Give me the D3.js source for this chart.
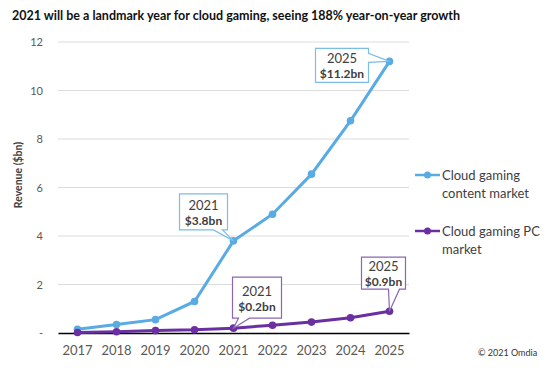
<!DOCTYPE html>
<html>
<head>
<meta charset="utf-8">
<script src="https://cdn.jsdelivr.net/npm/d3@7"></script>
<style>
  body { margin: 0; background: #fff; }
  text { font-family: Lato, "Open Sans", sans-serif; }
</style>
</head>
<body>
<div id="chart"></div>
<script>
// data
var years = ['2017', '2018', '2019', '2020', '2021', '2022', '2023', '2024', '2025'];
var contentMarket = [0.15, 0.35, 0.55, 1.3, 3.8, 4.9, 6.55, 8.75, 11.2];
var pcMarket = [0.02, 0.05, 0.1, 0.13, 0.2, 0.32, 0.45, 0.63, 0.9];
var yTicks = [0, 2, 4, 6, 8, 10, 12];
var seriesNames = [['Cloud gaming', 'content market'], ['Cloud gaming PC', 'market']];

var width = 553, height = 368;
var blue = '#58abe3', purple = '#6a2fa0';

var svg = d3.select('#chart').append('svg')
    .attr('width', width)
    .attr('height', height);

var x = d3.scaleBand()
    .domain(years)
    .range([58, 409]);

var y = d3.scaleLinear()
    .domain([0, 12])
    .range([333, 42]);

function cx(d) { return x(d) + x.bandwidth() / 2; }

// title
svg.append('text')
  .attr('x', 12).attr('y', 20)
  .style('font-size', '12.5px')
  .style('font-weight', 'bold')
  .attr('fill', '#111')
  .text('2021 will be a landmark year for cloud gaming, seeing 188% year-on-year growth');

// gridlines
svg.append('g').selectAll('line')
  .data(yTicks.filter(d => d > 0))
  .enter().append('line')
    .attr('x1', 58).attr('x2', 409)
    .attr('y1', d => y(d)).attr('y2', d => y(d))
    .attr('stroke', '#dcdcdc')
    .attr('stroke-width', 1);

// y axis labels
var yaxis = d3.axisLeft(y).tickValues(yTicks).tickSize(0).tickPadding(15)
    .tickFormat(d => d === 0 ? '-' : d);
svg.append('g')
  .attr('transform', 'translate(58,0)')
  .call(yaxis)
  .call(g => g.select('.domain').remove())
  .call(g => g.selectAll('text')
      .style('font-size', '11px')
      .style('font-family', 'Lato, sans-serif')
      .attr('fill', '#595959'));

// x axis
var xaxis = d3.axisBottom(x).tickSize(0).tickPadding(13);
svg.append('g')
  .attr('transform', 'translate(0,' + y(0) + ')')
  .call(xaxis)
  .call(g => g.select('.domain').attr('stroke', '#000').attr('stroke-width', 1.3))
  .call(g => g.selectAll('text')
      .style('font-size', '13px')
      .style('font-family', 'Lato, sans-serif')
      .attr('fill', '#595959'));

// y axis title
svg.append('text')
  .attr('transform', 'translate(22,' + 175 + ') rotate(-90)')
  .attr('text-anchor', 'middle')
  .style('font-size', '10.5px')
  .style('font-weight', 'bold')
  .attr('fill', '#404040')
  .text('Revenue ($bn)');

// lines
var line = d3.line()
    .x((d, i) => cx(years[i]))
    .y(d => y(d));

[[contentMarket, blue], [pcMarket, purple]].forEach(function(s) {
  svg.append('path')
    .datum(s[0])
    .attr('d', line)
    .attr('fill', 'none')
    .attr('stroke', s[1])
    .attr('stroke-width', 3);
  svg.append('g').selectAll('circle')
    .data(s[0])
    .enter().append('circle')
      .attr('cx', (d, i) => cx(years[i]))
      .attr('cy', d => y(d))
      .attr('r', 3.8)
      .attr('fill', s[1]);
});

// callouts: box offset relative to the point, tail on a given side
var callouts = [
  { series: contentMarket, idx: 4, color: '#7cbde6', dx: -54, dy: -47, w: 48, h: 36, side: 'bottom', t0: 34, t1: 43 },
  { series: contentMarket, idx: 8, color: '#7cbde6', dx: -74, dy: -13, w: 53, h: 34, side: 'right', t0: 5, t1: 14 },
  { series: pcMarket, idx: 4, color: '#8a66b3', dx: -1, dy: -51, w: 49, h: 41, side: 'bottom', t0: 6, t1: 17 },
  { series: pcMarket, idx: 8, color: '#8a66b3', dx: -28, dy: -54, w: 44, h: 32, side: 'bottom', t0: 27, t1: 38 }
];

callouts.forEach(function(c) {
  var px = cx(years[c.idx]), py = y(c.series[c.idx]);
  var bx = px + c.dx, by = py + c.dy;
  var pts;
  if (c.side === 'bottom') {
    pts = [[bx, by], [bx + c.w, by], [bx + c.w, by + c.h], [bx + c.t1, by + c.h],
           [px, py], [bx + c.t0, by + c.h], [bx, by + c.h]];
  } else {
    pts = [[bx, by], [bx + c.w, by], [bx + c.w, by + c.t0], [px, py],
           [bx + c.w, by + c.t1], [bx + c.w, by + c.h], [bx, by + c.h]];
  }
  svg.append('path')
    .attr('d', 'M' + pts.join('L') + 'Z')
    .attr('fill', '#fff')
    .attr('stroke', c.color)
    .attr('stroke-width', 1.2);
  var g = svg.append('g').attr('text-anchor', 'middle').attr('fill', '#404040');
  var mid = bx + c.w / 2, top = by + c.h / 2;
  g.append('text')
    .attr('x', mid).attr('y', top - 2)
    .style('font-size', '13px')
    .text(years[c.idx]);
  g.append('text')
    .attr('x', mid).attr('y', top + 13)
    .style('font-size', '12px')
    .style('font-weight', 'bold')
    .text('$' + c.series[c.idx].toFixed(1) + 'bn');
});

// legend
var legend = svg.append('g').selectAll('g')
  .data(seriesNames)
  .enter().append('g')
    .attr('transform', (d, i) => 'translate(415,' + (175 + i * 56) + ')');
legend.append('line')
  .attr('x1', 0).attr('x2', 25)
  .attr('stroke', (d, i) => i === 0 ? blue : purple)
  .attr('stroke-width', 2.5);
legend.append('circle')
  .attr('cx', 12.5).attr('r', 3.5)
  .attr('fill', (d, i) => i === 0 ? blue : purple);
legend.append('text')
  .attr('x', 27).attr('y', 5)
  .style('font-size', '13px')
  .attr('fill', '#404040')
  .selectAll('tspan')
  .data(d => d)
  .enter().append('tspan')
    .attr('x', 27)
    .attr('dy', (d, i) => i === 0 ? 0 : 18)
    .text(d => d);

// source
svg.append('text')
  .attr('x', 478).attr('y', 356)
  .style('font-size', '9px')
  .attr('fill', '#333')
  .text('\u00a9 2021 Omdia');
</script>
</body>
</html>
